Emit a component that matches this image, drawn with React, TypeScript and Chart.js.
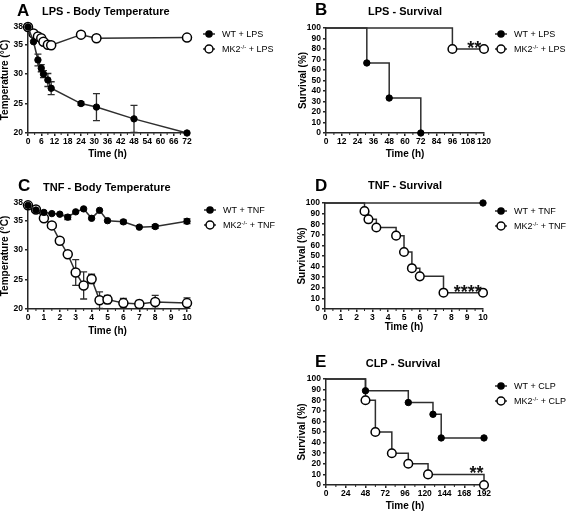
import React, { useEffect, useRef } from 'react';
import { Chart, registerables } from 'chart.js';

Chart.register(...registerables);

const FONT = '"Liberation Sans", Arial, Helvetica, sans-serif';
const AXIS = '#262626';
const LINE = '#2e2e2e';

// ---------- Panel A: LPS - Body Temperature ----------
const lpsTempTimesWT = [0, 2.5, 4.5, 6, 7, 9, 10.5, 24, 31, 48, 72];
const lpsTempWT = [38, 35.5, 32.4, 31.0, 30.0, 29.0, 27.6, 25.0, 24.4, 22.4, 20.0];
const lpsTempErrWT = [0, 0, 1.0, 0.6, 0.6, 1.1, 1.1, 0.3, 2.3, 2.3, 0];
const lpsTempTimesKO = [0, 2.5, 4.5, 6, 7, 9, 10.5, 24, 31, 72];
const lpsTempKO = [38, 36.9, 36.4, 36.1, 35.5, 35.0, 34.9, 36.7, 36.1, 36.2];
const lpsTempErrKO = [0, 0, 0, 0, 0, 0, 0, 0, 0.4, 0];
const lpsTempXTicks = [0, 6, 12, 18, 24, 30, 36, 42, 48, 54, 60, 66, 72];
const lpsTempXMinor = [3, 9, 15, 21, 27, 33, 39, 45, 51, 57, 63, 69];
const tempYTicks = [20, 25, 30, 35, 38];

// ---------- Panel B: LPS - Survival ----------
const lpsSurvTimesWT = [0, 31, 48, 72];
const lpsSurvWT = [100, 66.7, 33.3, 0];
const lpsSurvTimesKO = [0, 96, 120];
const lpsSurvKO = [100, 80, 80];
const lpsSurvXTicks = [0, 12, 24, 36, 48, 60, 72, 84, 96, 108, 120];
const lpsSurvXMinor = [6, 18, 30, 42, 54, 66, 78, 90, 102, 114];
const survYTicks = [0, 10, 20, 30, 40, 50, 60, 70, 80, 90, 100];

// ---------- Panel C: TNF - Body Temperature ----------
const tnfTempTimes = [0, 0.5, 1, 1.5, 2, 2.5, 3, 3.5, 4, 4.5, 5, 6, 7, 8, 10];
const tnfTempWT = [37.6, 36.8, 36.4, 36.2, 36.1, 35.6, 36.5, 37.0, 35.4, 36.75, 35.0, 34.8, 33.9, 34.0, 34.9];
const tnfTempErrWT = [0, 0, 0, 0, 0, 0.4, 0, 0, 0, 0, 0, 0.3, 0, 0.3, 0.4];
const tnfTempKO = [37.6, 36.9, 35.4, 34.2, 31.6, 29.3, 26.2, 24.0, 25.1, 21.5, 21.6, 21.0, 20.85, 21.2, 21.0];
const tnfTempErrKO = [0, 0, 0, 0, 0, 0, 2.2, 2.3, 0.8, 1.4, 0.7, 0.8, 0.6, 1.1, 0.9];
const tnfXTicks = [0, 1, 2, 3, 4, 5, 6, 7, 8, 9, 10];
const tnfXMinor = [0.5, 1.5, 2.5, 3.5, 4.5, 5.5, 6.5, 7.5, 8.5, 9.5];

// ---------- Panel D: TNF - Survival ----------
const tnfSurvTimesWT = [0, 10];
const tnfSurvWT = [100, 100];
const tnfSurvTimesKO = [0, 2.5, 2.75, 3.25, 4.5, 5, 5.5, 6, 7.5, 10];
const tnfSurvKO = [100, 92.3, 84.6, 76.9, 69.2, 53.8, 38.5, 30.8, 15.4, 15.4];

// ---------- Panel E: CLP - Survival ----------
const clpSurvTimesWT = [0, 48, 100, 130, 140, 192];
const clpSurvWT = [100, 88.9, 77.8, 66.7, 44.4, 44.4];
const clpSurvTimesKO = [0, 48, 60, 80, 100, 124, 192];
const clpSurvKO = [100, 80, 50, 30, 20, 10, 0];
const clpXTicks = [0, 24, 48, 72, 96, 120, 144, 168, 192];
const clpXMinor = [12, 36, 60, 84, 108, 132, 156, 180];

// significance marks (data coordinates)
const sigB = { x: 112.6, y: 85.4, text: '**' };
const sigD = { x: 9.03, y: 20.5, text: '****' };
const sigE = { x: 183, y: 15.8, text: '**' };

type Part = [string, boolean];
type LegendItem = { parts: Part[]; filled: boolean };

function toXY(xs: number[], ys: number[]) {
  return xs.map((x, i) => ({ x, y: ys[i] }));
}

function wtSet(xs: number[], ys: number[], km: boolean) {
  return {
    data: toXY(xs, ys),
    borderColor: LINE,
    borderWidth: 1.5,
    pointBackgroundColor: '#000',
    pointBorderColor: '#000',
    pointBorderWidth: 1,
    pointRadius: km ? (c: any) => (c.dataIndex === 0 ? 0 : 3.2) : 3.2,
    stepped: km ? 'before' : false,
    tension: 0,
    fill: false,
    clip: false,
  };
}

function koSet(xs: number[], ys: number[], km: boolean) {
  return {
    data: toXY(xs, ys),
    borderColor: LINE,
    borderWidth: 1.5,
    pointBackgroundColor: '#fff',
    pointBorderColor: '#000',
    pointBorderWidth: 1.5,
    pointRadius: km ? (c: any) => (c.dataIndex === 0 ? 0 : 4.3) : 4.5,
    stepped: km ? 'before' : false,
    tension: 0,
    fill: false,
    clip: false,
  };
}

function axis(o: { min: number; max: number; ticks: number[]; title: string; titlePad: number; size: number; isX: boolean }) {
  return {
    type: 'linear',
    min: o.min,
    max: o.max,
    bounds: 'data',
    afterBuildTicks: (s: any) => {
      s.ticks = o.ticks.map((v) => ({ value: v }));
    },
    afterFit: (s: any) => {
      if (o.isX) s.height = o.size;
      else s.width = o.size;
    },
    grid: { display: true, drawOnChartArea: false, drawTicks: true, tickLength: 3, color: AXIS, lineWidth: 1.5 },
    border: { display: true, color: AXIS, width: 1.5 },
    ticks: {
      autoSkip: false,
      maxRotation: 0,
      minRotation: 0,
      padding: o.isX ? 1 : 2,
      color: '#000',
      font: { family: FONT, size: 8.5, weight: 'bold' },
    },
    title: {
      display: true,
      text: o.title,
      color: '#000',
      font: { family: FONT, size: 10, weight: 'bold', lineHeight: 1 },
      padding: o.isX ? { top: 0, bottom: o.titlePad } : { top: o.titlePad, bottom: 0 },
    },
  };
}

type Spec = {
  left: number; top: number; width: number; height: number;
  area: { left: number; top: number; right: number; bottom: number };
  letter: string; letterX: number; letterY: number;
  title: string; titleX: number; titleY: number; titleAlign: 'left' | 'center';
  xTitle: string; xTitlePad: number; yTitle: string; yTitlePad: number;
  xMin: number; xMax: number; xTicks: number[]; xMinor: number[];
  yMin: number; yMax: number; yTicks: number[];
  datasets: any[];
  errors?: (number[] | null)[];
  legend: { x: number; y: number; dy: number; items: LegendItem[] };
  sig?: { x: number; y: number; text: string };
};

function decorPlugin(spec: Spec) {
  return {
    id: 'decor',
    beforeDatasetsDraw(chart: any) {
      if (!spec.errors) return;
      const ctx = chart.ctx;
      const ys = chart.scales.y;
      ctx.save();
      ctx.strokeStyle = LINE;
      ctx.lineWidth = 1.3;
      spec.errors.forEach((errs, di) => {
        if (!errs) return;
        const meta = chart.getDatasetMeta(di);
        const raw = chart.data.datasets[di].data;
        errs.forEach((e, j) => {
          if (!e) return;
          const pt = meta.data[j];
          const v = raw[j].y;
          const yTop = ys.getPixelForValue(v + e);
          const yBot = ys.getPixelForValue(v - e);
          ctx.beginPath();
          ctx.moveTo(pt.x, yTop);
          ctx.lineTo(pt.x, yBot);
          ctx.moveTo(pt.x - 3.5, yTop);
          ctx.lineTo(pt.x + 3.5, yTop);
          ctx.moveTo(pt.x - 3.5, yBot);
          ctx.lineTo(pt.x + 3.5, yBot);
          ctx.stroke();
        });
      });
      ctx.restore();
    },
    afterDraw(chart: any) {
      const ctx = chart.ctx;
      const xs = chart.scales.x;
      const ys = chart.scales.y;
      const ca = chart.chartArea;
      ctx.save();
      // minor ticks
      ctx.strokeStyle = AXIS;
      ctx.lineWidth = 1;
      spec.xMinor.forEach((v) => {
        const px = xs.getPixelForValue(v);
        ctx.beginPath();
        ctx.moveTo(px, ca.bottom);
        ctx.lineTo(px, ca.bottom + 2);
        ctx.stroke();
      });
      // panel letter
      ctx.fillStyle = '#000';
      ctx.textBaseline = 'alphabetic';
      ctx.textAlign = 'left';
      ctx.font = `bold 17px ${FONT}`;
      ctx.fillText(spec.letter, spec.letterX, spec.letterY + 6);
      // title
      ctx.font = `bold 11px ${FONT}`;
      ctx.textAlign = spec.titleAlign;
      ctx.fillText(spec.title, spec.titleX, spec.titleY + 4);
      // legend
      const lg = spec.legend;
      lg.items.forEach((it, i) => {
        const cy = lg.y + i * lg.dy;
        ctx.strokeStyle = LINE;
        ctx.lineWidth = 1.5;
        ctx.beginPath();
        ctx.moveTo(lg.x - 6, cy);
        ctx.lineTo(lg.x + 6, cy);
        ctx.stroke();
        ctx.beginPath();
        ctx.arc(lg.x, cy, it.filled ? 3 : 4, 0, Math.PI * 2);
        ctx.fillStyle = it.filled ? '#000' : '#fff';
        ctx.fill();
        ctx.strokeStyle = '#000';
        ctx.stroke();
        ctx.fillStyle = '#000';
        ctx.textAlign = 'left';
        let tx = lg.x + 13;
        it.parts.forEach(([t, sup]) => {
          ctx.font = sup ? `6px ${FONT}` : `9px ${FONT}`;
          ctx.fillText(t, tx, sup ? cy - 0.5 : cy + 3.2);
          tx += ctx.measureText(t).width;
        });
      });
      // significance
      if (spec.sig) {
        ctx.font = `bold 18px ${FONT}`;
        ctx.textAlign = 'center';
        ctx.fillStyle = '#111';
        const px = xs.getPixelForValue(spec.sig.x);
        const py = ys.getPixelForValue(spec.sig.y);
        ctx.fillText(spec.sig.text, px, py + 10.5);
      }
      ctx.restore();
    },
  };
}

function buildConfig(spec: Spec): any {
  return {
    type: 'line',
    data: { datasets: spec.datasets },
    options: {
      responsive: false,
      maintainAspectRatio: false,
      animation: false,
      events: [],
      layout: { padding: { left: 0, top: spec.area.top, right: spec.width - spec.area.right, bottom: 0 } },
      plugins: { legend: { display: false }, tooltip: { enabled: false }, title: { display: false } },
      scales: {
        x: { ...axis({ min: spec.xMin, max: spec.xMax, ticks: spec.xTicks, title: spec.xTitle, titlePad: spec.xTitlePad, size: spec.height - spec.area.bottom, isX: true }), position: 'bottom' },
        y: { ...axis({ min: spec.yMin, max: spec.yMax, ticks: spec.yTicks, title: spec.yTitle, titlePad: spec.yTitlePad, size: spec.area.left, isX: false }), position: 'left' },
      },
    },
    plugins: [decorPlugin(spec)],
  };
}

function legendItems(suffix: string): LegendItem[] {
  return [
    { parts: [['WT + ' + suffix, false]], filled: true },
    { parts: [['MK2', false], ['-/-', true], [' + ' + suffix, false]], filled: false },
  ];
}

const specs: Spec[] = [
  {
    left: 0, top: 0, width: 280, height: 160,
    area: { left: 28, top: 27, right: 187, bottom: 133 },
    letter: 'A', letterX: 17, letterY: 10,
    title: 'LPS - Body Temperature', titleX: 42, titleY: 11, titleAlign: 'left',
    xTitle: 'Time (h)', xTitlePad: 1, yTitle: 'Temperature (°C)', yTitlePad: 0,
    xMin: 0, xMax: 72, xTicks: lpsTempXTicks, xMinor: lpsTempXMinor,
    yMin: 20, yMax: 38, yTicks: tempYTicks,
    datasets: [wtSet(lpsTempTimesWT, lpsTempWT, false), koSet(lpsTempTimesKO, lpsTempKO, false)],
    errors: [lpsTempErrWT, lpsTempErrKO],
    legend: { x: 209, y: 34, dy: 15, items: legendItems('LPS') },
  },
  {
    left: 280, top: 0, width: 287, height: 160,
    area: { left: 46, top: 28, right: 204, bottom: 133 },
    letter: 'B', letterX: 35, letterY: 9,
    title: 'LPS - Survival', titleX: 125, titleY: 11, titleAlign: 'center',
    xTitle: 'Time (h)', xTitlePad: 1, yTitle: 'Survival (%)', yTitlePad: 18,
    xMin: 0, xMax: 120, xTicks: lpsSurvXTicks, xMinor: lpsSurvXMinor,
    yMin: 0, yMax: 100, yTicks: survYTicks,
    datasets: [wtSet(lpsSurvTimesWT, lpsSurvWT, true), koSet(lpsSurvTimesKO, lpsSurvKO, true)],
    legend: { x: 221, y: 34, dy: 15, items: legendItems('LPS') },
    sig: sigB,
  },
  {
    left: 0, top: 165, width: 280, height: 172,
    area: { left: 28, top: 38, right: 187, bottom: 144 },
    letter: 'C', letterX: 18, letterY: 20,
    title: 'TNF - Body Temperature', titleX: 43, titleY: 22, titleAlign: 'left',
    xTitle: 'Time (h)', xTitlePad: 1, yTitle: 'Temperature (°C)', yTitlePad: 0,
    xMin: 0, xMax: 10, xTicks: tnfXTicks, xMinor: tnfXMinor,
    yMin: 20, yMax: 38, yTicks: tempYTicks,
    datasets: [wtSet(tnfTempTimes, tnfTempWT, false), koSet(tnfTempTimes, tnfTempKO, false)],
    errors: [tnfTempErrWT, tnfTempErrKO],
    legend: { x: 210, y: 45, dy: 15, items: legendItems('TNF') },
  },
  {
    left: 280, top: 165, width: 287, height: 172,
    area: { left: 45, top: 38, right: 203, bottom: 144 },
    letter: 'D', letterX: 35, letterY: 20,
    title: 'TNF - Survival', titleX: 125, titleY: 20, titleAlign: 'center',
    xTitle: 'Time (h)', xTitlePad: 5, yTitle: 'Survival (%)', yTitlePad: 17.7,
    xMin: 0, xMax: 10, xTicks: tnfXTicks, xMinor: tnfXMinor,
    yMin: 0, yMax: 100, yTicks: survYTicks,
    datasets: [wtSet(tnfSurvTimesWT, tnfSurvWT, true), koSet(tnfSurvTimesKO, tnfSurvKO, true)],
    legend: { x: 221, y: 46, dy: 15, items: legendItems('TNF') },
    sig: sigD,
  },
  {
    left: 280, top: 340, width: 287, height: 173,
    area: { left: 46, top: 39, right: 204, bottom: 145 },
    letter: 'E', letterX: 35, letterY: 21,
    title: 'CLP - Survival', titleX: 123, titleY: 23, titleAlign: 'center',
    xTitle: 'Time (h)', xTitlePad: 2, yTitle: 'Survival (%)', yTitlePad: 17.7,
    xMin: 0, xMax: 192, xTicks: clpXTicks, xMinor: clpXMinor,
    yMin: 0, yMax: 100, yTicks: survYTicks,
    datasets: [wtSet(clpSurvTimesWT, clpSurvWT, true), koSet(clpSurvTimesKO, clpSurvKO, true)],
    legend: { x: 221, y: 46, dy: 15, items: legendItems('CLP') },
    sig: sigE,
  },
];

function Panel({ spec }: { spec: Spec }) {
  const ref = useRef<HTMLCanvasElement | null>(null);
  useEffect(() => {
    if (!ref.current) return;
    const chart = new Chart(ref.current, buildConfig(spec));
    return () => chart.destroy();
  }, [spec]);
  return (
    <canvas
      ref={ref}
      width={spec.width}
      height={spec.height}
      style={{ position: 'absolute', left: spec.left, top: spec.top, width: spec.width, height: spec.height }}
    />
  );
}

export default function App() {
  return (
    <div style={{ position: 'absolute', left: 0, top: 0, width: 567, height: 513, background: '#fff', overflow: 'hidden' }}>
      {specs.map((s) => (
        <Panel key={s.letter} spec={s} />
      ))}
    </div>
  );
}
